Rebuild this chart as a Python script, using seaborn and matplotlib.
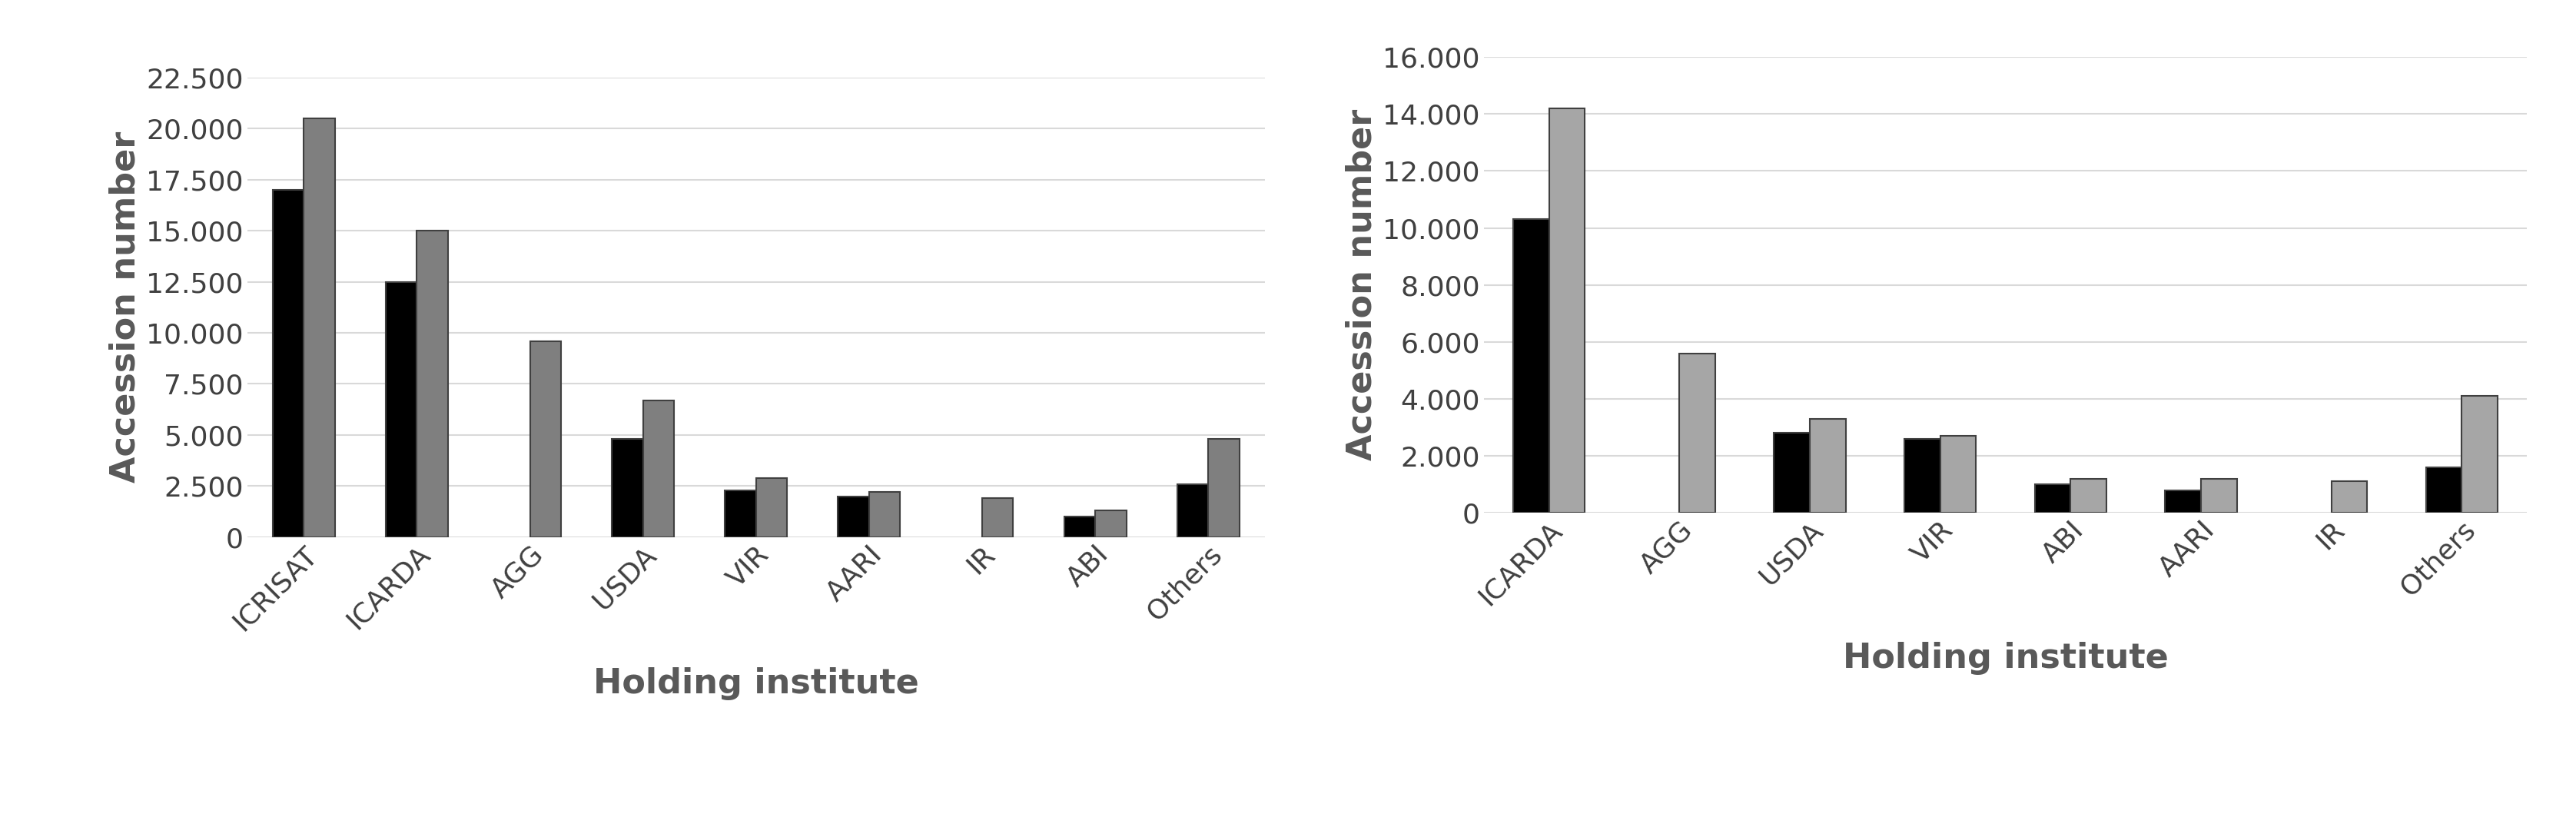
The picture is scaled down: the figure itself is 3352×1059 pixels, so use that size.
import pandas as pd
import matplotlib.pyplot as plt
import seaborn as sns
from matplotlib.ticker import FuncFormatter

left_cats = ['ICRISAT', 'ICARDA', 'AGG', 'USDA', 'VIR', 'AARI', 'IR', 'ABI', 'Others']
left_black = [17000, 12500, 0, 4800, 2300, 2000, 0, 1000, 2600]
left_gray = [20500, 15000, 9600, 6700, 2900, 2200, 1900, 1300, 4800]

right_cats = ['ICARDA', 'AGG', 'USDA', 'VIR', 'ABI', 'AARI', 'IR', 'Others']
right_black = [10300, 0, 2800, 2600, 1000, 800, 0, 1600]
right_gray = [14200, 5600, 3300, 2700, 1200, 1200, 1100, 4100]

sns.set_style("white")
plt.rcParams['font.family'] = ['DejaVu Sans']

fig = plt.figure(figsize=(33.52, 10.59), dpi=100)
ax1 = fig.add_axes([0.096, 0.34, 0.395, 0.565])
ax2 = fig.add_axes([0.576, 0.37, 0.405, 0.56])

fmt = FuncFormatter(lambda v, p: f"{int(v):,}".replace(',', '.'))


def draw(ax, cats, black, gray, graycol, ymax, step):
    df = pd.DataFrame({'inst': cats * 2, 'val': black + gray,
                       'series': ['a'] * len(cats) + ['b'] * len(cats)})
    sns.barplot(data=df, x='inst', y='val', hue='series', ax=ax,
                palette=['black', graycol], width=0.55, legend=False,
                edgecolor='#404040', linewidth=1.5, zorder=3)
    # hide the zero-height bars
    for p in ax.patches:
        if p.get_height() == 0:
            p.set_visible(False)
    ax.set_ylim(0, ymax)
    ax.set_yticks(range(0, ymax + 1, step))
    ax.yaxis.set_major_formatter(fmt)
    ax.grid(axis='y', color='#d9d9d9', linewidth=1.5, zorder=0)
    for s in ax.spines.values():
        s.set_visible(False)
    ax.tick_params(axis='both', labelsize=26, colors='#404040', length=0)
    plt.setp(ax.get_xticklabels(), rotation=45, ha='right', rotation_mode='anchor')
    ax.set_xlabel('Holding institute', fontsize=32, fontweight='bold', color='#595959', labelpad=30)
    ax.set_ylabel('Accession number', fontsize=32, fontweight='bold', color='#595959')


draw(ax1, left_cats, left_black, left_gray, '#7f7f7f', 22500, 2500)
draw(ax2, right_cats, right_black, right_gray, '#a6a6a6', 16000, 2000)

fig.savefig('out.png', dpi=100)
